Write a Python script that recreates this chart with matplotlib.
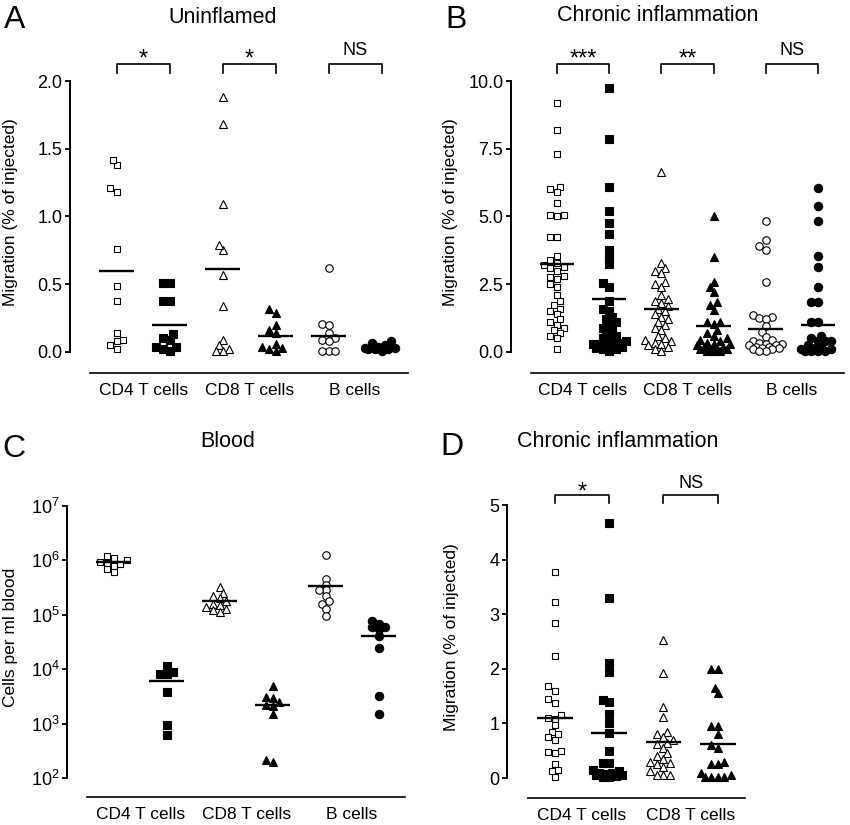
import numpy as np
import matplotlib.pyplot as plt
import matplotlib.transforms as mtransforms
from matplotlib.ticker import FixedLocator, NullLocator

plt.rcParams['font.family'] = ['Liberation Sans', 'DejaVu Sans']

# ---- data ----
groups3 = ['CD4 T cells', 'CD8 T cells', 'B cells']
groups2 = ['CD4 T cells', 'CD8 T cells']

# A - uninflamed, % of injected
a_cd4_open = [1.38, 1.42, 1.21, 1.18, 0.76, 0.49, 0.38, 0.14, 0.09, 0.08, 0.05, 0.02]
a_cd4_fill = [0.51, 0.51, 0.38, 0.38, 0.13, 0.09, 0.10, 0.04, 0.04, 0.01, 0.02]
a_cd8_open = [1.88, 1.68, 1.09, 0.75, 0.79, 0.57, 0.34, 0.09, 0.05, 0.02, 0.01, 0.01]
a_cd8_fill = [0.32, 0.29, 0.20, 0.165, 0.14, 0.06, 0.04, 0.03, 0.02, 0.01]
a_b_open = [0.62, 0.21, 0.20, 0.14, 0.10, 0.09, 0.08, 0.01, 0.01, 0.01]
a_b_fill = [0.08, 0.07, 0.05, 0.04, 0.03, 0.03, 0.02, 0.02, 0.01, 0.02]
a_lines = [0.60, 0.20, 0.61, 0.12, 0.12, 0.035]
a_sig = ['*', '*', 'NS']

# B - chronic inflammation, % of injected
b_cd4_open = [9.2, 8.2, 7.3, 6.1, 6.0, 5.9, 5.5, 5.05, 5.0, 5.05, 4.25, 4.25, 3.55,
              3.4, 3.3, 3.2, 3.15, 3.1, 3.0, 2.8, 2.75, 2.7, 2.5, 2.4, 2.1, 1.9, 1.75,
              1.6, 1.5, 1.4, 1.2, 1.1, 1.0, 0.9, 0.8, 0.7, 0.6, 0.5, 0.1]
b_cd4_fill = [9.75, 7.85, 6.1, 5.2, 4.75, 4.35, 3.75, 3.5, 3.25, 2.55, 2.4, 1.9, 1.6,
              1.5, 1.3, 1.2, 1.1, 1.0, 0.9, 0.8, 0.7, 0.6, 0.5, 0.5, 0.4, 0.35, 0.3,
              0.3, 0.25, 0.2, 0.2, 0.15, 0.1, 0.1, 0.05]
b_cd8_open = [6.65, 3.3, 3.1, 3.0, 2.9, 2.6, 2.5, 2.4, 2.1, 1.95, 1.9, 1.8, 1.7, 1.6,
              1.5, 1.4, 1.3, 1.2, 1.1, 1.0, 0.9, 0.8, 0.6, 0.5, 0.45, 0.4, 0.35, 0.3,
              0.25, 0.2, 0.1, 0.05]
b_cd8_fill = [5.0, 3.5, 2.6, 2.4, 2.2, 1.85, 1.75, 1.55, 1.1, 1.1, 1.05, 0.8, 0.7, 0.6,
              0.5, 0.45, 0.4, 0.35, 0.3, 0.3, 0.25, 0.2, 0.2, 0.15, 0.15, 0.1, 0.1,
              0.05, 0.05, 0.05]
b_b_open = [4.85, 4.15, 3.75, 3.9, 2.6, 1.35, 1.3, 1.25, 1.2, 0.95, 0.75, 0.55, 0.45,
            0.4, 0.35, 0.3, 0.3, 0.25, 0.25, 0.2, 0.2, 0.15, 0.15, 0.1, 0.1, 0.05, 0.05]
b_b_fill = [6.05, 5.4, 4.85, 3.55, 3.15, 2.4, 1.85, 1.85, 1.1, 1.1, 0.6, 0.5, 0.4, 0.4,
            0.4, 0.25, 0.2, 0.15, 0.1, 0.1, 0.05, 0.05, 0.05, 0.05]
b_lines = [3.25, 1.97, 1.6, 0.95, 0.85, 1.0]
b_sig = ['***', '**', 'NS']

# C - blood, cells per ml
c_cd4_open = [1.2e6, 1.1e6, 1.0e6, 0.95e6, 0.9e6, 0.85e6, 0.8e6, 0.7e6, 0.6e6]
c_cd4_fill = [1.13e4, 9.0e3, 8.3e3, 8.0e3, 3.8e3, 960, 630]
c_cd8_open = [3.3e5, 2.5e5, 2.2e5, 2.0e5, 1.8e5, 1.6e5, 1.5e5, 1.4e5, 1.3e5, 1.2e5, 1.15e5]
c_cd8_fill = [5.0e3, 3.1e3, 3.0e3, 2.5e3, 2.2e3, 2.1e3, 1.5e3, 200, 210]
c_b_open = [1.26e6, 4.6e5, 3.6e5, 2.8e5, 2.8e5, 2.2e5, 1.8e5, 1.6e5, 1.3e5, 9.6e4]
c_b_fill = [7.8e4, 6.9e4, 6.0e4, 6.0e4, 5.4e4, 4.1e4, 2.5e4, 3.2e3, 1.5e3]
c_lines = [9.4e5, 6.0e3, 1.8e5, 2.2e3, 3.4e5, 4.1e4]

# D - chronic inflammation, % of injected
d_cd4_open = [3.77, 3.23, 2.83, 2.23, 1.68, 1.6, 1.45, 1.38, 1.15, 1.1, 1.08, 0.97,
              0.85, 0.8, 0.75, 0.7, 0.5, 0.48, 0.45, 0.25, 0.15, 0.12, 0.02]
d_cd4_fill = [4.67, 3.3, 2.1, 1.95, 1.42, 1.4, 1.18, 1.0, 0.83, 0.5, 0.27, 0.27, 0.15,
              0.12, 0.1, 0.1, 0.08, 0.05, 0.05, 0.03, 0.02, 0.02]
d_cd8_open = [2.52, 1.92, 1.3, 1.12, 0.85, 0.8, 0.75, 0.7, 0.65, 0.62, 0.55, 0.45, 0.4,
              0.35, 0.3, 0.28, 0.25, 0.2, 0.12, 0.05, 0.05, 0.05]
d_cd8_fill = [2.0, 2.0, 1.65, 1.55, 0.95, 0.95, 0.8, 0.6, 0.55, 0.3, 0.25, 0.25, 0.1,
              0.05, 0.02, 0.02, 0.02, 0.02]
d_lines = [1.1, 0.82, 0.66, 0.62]
d_sig = ['*', 'NS']

W, H = 850, 825
MARKERS = ['s', 's', '^', '^', 'o', 'o']


def px_rect(left, top, right, bottom):
    return [left / W, 1 - bottom / H, (right - left) / W, (bottom - top) / H]


def swarm(ypix, xpx, diam=5.5, maxw=0.36):
    # beeswarm in pixel space, capped width; returns x offsets in data units
    order = np.argsort(ypix)
    placed = []
    offs = np.zeros(len(ypix))
    step = diam * 0.6
    lim = maxw * xpx
    cands = [0.0]
    n = 1
    while n * step <= lim:
        cands += [-n * step, n * step]
        n += 1
    for i in order:
        y = ypix[i]
        best, bestd = 0.0, -1.0
        for xo in cands:
            d = min([np.hypot(xo - px, y - py) for px, py in placed] or [1e9])
            if d >= diam:
                best = xo
                break
            if d > bestd:
                best, bestd = xo, d
        placed.append((best, y))
        offs[i] = best / xpx
    return offs


def panel(fig, rect, cols, lines, labels, ylim, ybounds, yticks, yfmt,
          sig=None, br=None, log=False):
    ax = fig.add_axes(px_rect(*rect))
    n = len(cols)
    ax.set_xlim(-0.88, n - 0.5)
    if log:
        ax.set_yscale('log')
    ax.set_ylim(*ylim)
    wpx = rect[2] - rect[0]
    hpx = rect[3] - rect[1]
    xpx = wpx / (n - 0.5 + 0.88)
    if log:
        ypx = hpx / (np.log10(ylim[1]) - np.log10(ylim[0]))
    else:
        ypx = hpx / (ylim[1] - ylim[0])

    for i, vals in enumerate(cols):
        v = np.array(vals, dtype=float)
        yp = (np.log10(v) if log else v) * ypx
        xs = i + swarm(yp, xpx)
        filled = i % 2 == 1
        m = MARKERS[i]
        ms = {'s': 4.8, '^': 5.4, 'o': 5.4}[m]
        if filled:
            ms += 0.6
        ax.plot(xs, v, ls='none', marker=m, ms=ms, mew=0.8, mec='black',
                mfc='black' if filled else 'white', clip_on=False, zorder=3)
        ax.hlines(lines[i], i - 0.33, i + 0.33, colors='black', lw=1.7, zorder=4)

    for s in ['top', 'right']:
        ax.spines[s].set_visible(False)
    ax.spines['left'].set_linewidth(1.4)
    ax.spines['left'].set_bounds(*ybounds)
    ax.spines['bottom'].set_linewidth(1.2)
    ax.spines['bottom'].set_bounds(-0.5, n - 0.5)

    ax.yaxis.set_major_locator(FixedLocator(yticks))
    ax.yaxis.set_minor_locator(NullLocator())
    if yfmt is not None:
        ax.set_yticklabels([yfmt(t) for t in yticks])
    ax.tick_params(axis='y', direction='out', length=3.5, width=1.3, pad=2,
                   labelsize=13)
    ax.set_xticks([2 * j + 0.5 for j in range(len(labels))])
    ax.set_xticklabels(labels)
    ax.tick_params(axis='x', length=0, pad=7, labelsize=12.5)

    if sig is not None:
        trans = mtransforms.blended_transform_factory(ax.transData, ax.transAxes)
        ytop, ybot, ytxt = br
        for j, s in enumerate(sig):
            x0, x1 = 2 * j, 2 * j + 1
            ax.plot([x0, x0, x1, x1], [ybot, ytop, ytop, ybot], color='black',
                    lw=1.2, transform=trans, clip_on=False)
            if s == 'NS':
                ax.text((x0 + x1) / 2, ytxt, s, ha='center', va='baseline',
                        fontsize=13, transform=trans)
            else:
                ax.text((x0 + x1) / 2, ytxt - 0.035, s, ha='center', va='baseline',
                        fontsize=17, transform=trans)
    return ax


def ftext(x, y, s, **kw):
    fig.text(x / W, 1 - y / H, s, **kw)


fig = plt.figure(figsize=(8.5, 8.25), dpi=100)

panel(fig, (70, 81, 408, 373),
      [a_cd4_open, a_cd4_fill, a_cd8_open, a_cd8_fill, a_b_open, a_b_fill],
      a_lines, groups3, (-0.155, 2.0), (0, 2.0), [0, 0.5, 1.0, 1.5, 2.0],
      lambda t: f'{t:.1f}', sig=a_sig, br=(1.058, 1.027, 1.089))

panel(fig, (511, 81, 844, 373),
      [b_cd4_open, b_cd4_fill, b_cd8_open, b_cd8_fill, b_b_open, b_b_fill],
      b_lines, groups3, (-0.775, 10.0), (0, 10.0), [0, 2.5, 5.0, 7.5, 10.0],
      lambda t: f'{t:.1f}', sig=b_sig, br=(1.058, 1.027, 1.089))

panel(fig, (67, 506, 405, 797),
      [c_cd4_open, c_cd4_fill, c_cd8_open, c_cd8_fill, c_b_open, c_b_fill],
      c_lines, groups3, (10 ** 1.651, 1e7), (1e2, 1e7),
      [1e2, 1e3, 1e4, 1e5, 1e6, 1e7],
      lambda t: r'$\mathregular{10^{%d}}$' % round(np.log10(t)), log=True)

panel(fig, (507, 505, 745, 798),
      [d_cd4_open, d_cd4_fill, d_cd8_open, d_cd8_fill],
      d_lines, groups2, (-0.366, 5.0), (0, 5.0), [0, 1, 2, 3, 4, 5],
      lambda t: f'{t:d}', sig=d_sig, br=(1.034, 1.007, 1.058))

# panel letters and titles
ftext(15, 28, 'A', fontsize=23, ha='center', va='baseline')
ftext(456, 28, 'B', fontsize=23, ha='center', va='baseline')
ftext(14, 457, 'C', fontsize=23, ha='center', va='baseline')
ftext(452, 455, 'D', fontsize=23, ha='center', va='baseline')

ftext(223, 23, 'Uninflamed', fontsize=15.5, ha='center', va='baseline')
ftext(658, 21, 'Chronic inflammation', fontsize=15.5, ha='center', va='baseline')
ftext(228, 447, 'Blood', fontsize=15.5, ha='center', va='baseline')
ftext(618, 447, 'Chronic inflammation', fontsize=15.5, ha='center', va='baseline')

ylab = 'Migration (% of injected)'
ftext(11, 212, ylab, fontsize=12.5, rotation=90, ha='center', va='center')
ftext(450, 212, ylab, fontsize=12.5, rotation=90, ha='center', va='center')
ftext(11, 637, 'Cells per ml blood', fontsize=12.5, rotation=90, ha='center', va='center')
ftext(451, 637, ylab, fontsize=12.5, rotation=90, ha='center', va='center')

fig.savefig('out.png', dpi=100)
